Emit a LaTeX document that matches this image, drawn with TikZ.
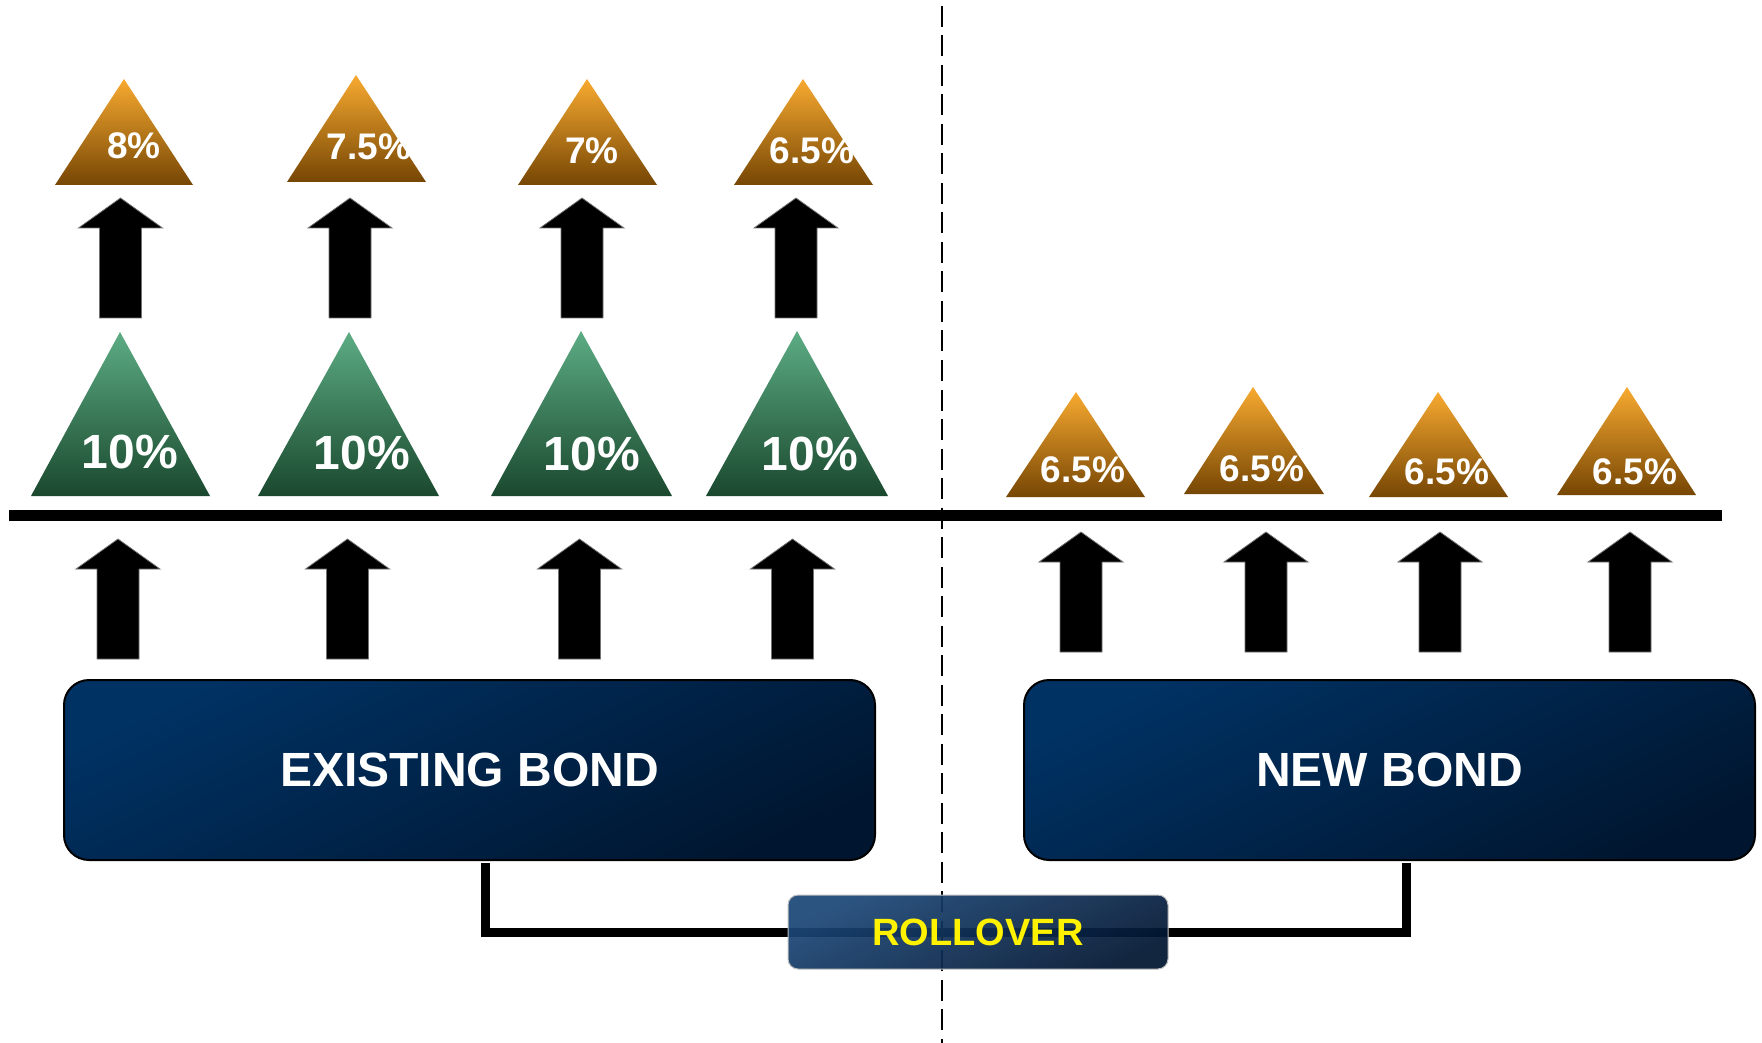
\documentclass[tikz,border=0pt]{standalone}
\usepackage{fontspec}
\setmainfont{Liberation Sans}
\definecolor{otop}{RGB}{248,170,48}
\definecolor{obot}{RGB}{118,70,4}
\definecolor{gtop}{RGB}{92,172,132}
\definecolor{gbot}{RGB}{26,72,46}
\definecolor{bxlight}{RGB}{0,50,100}
\definecolor{bxdark}{RGB}{0,22,48}
\definecolor{rlight}{RGB}{28,72,120}
\definecolor{rdark}{RGB}{2,22,50}
\begin{document}
\begin{tikzpicture}[x=0.5pt,y=-0.5pt,
  orangetri/.style={top color=otop, bottom color=obot},
  greentri/.style={top color=gtop, bottom color=gbot},
  blkarrow/.style={fill=black, draw=black!55, line width=0.4pt},
  lblbig/.style={text=white, inner sep=0pt, font=\bfseries\fontsize{24}{24}\selectfont},
  lblsmall/.style={text=white, inner sep=0pt, font=\bfseries\fontsize{18.5}{18.5}\selectfont},
  bondbox/.style={draw=black, line width=1pt, rounded corners=12.5pt, inner sep=0pt, outer sep=0pt,
    top color=bxlight, bottom color=bxdark, shading angle=25,
    text=white, font=\bfseries\fontsize{24}{24}\selectfont},
  rollbox/.style={draw=black!25, line width=0.5pt, rounded corners=5pt, inner sep=0pt, outer sep=0pt,
    top color=rlight, bottom color=rdark, shading angle=25, fill opacity=0.93,
    text=yellow, text opacity=1, font=\bfseries\fontsize{19}{19}\selectfont},
  conn/.style={draw=black, line width=4.5pt},
  baseline/.style={draw=black, line width=5.5pt},
  dashline/.style={draw=black, line width=1.25pt, dash pattern=on 10.5pt off 4.25pt, dash phase=11.75pt},
  uparrow/.pic={\path[blkarrow] (-21,0) -- (-21,-90) -- (-42,-90) -- (0,-120) -- (42,-90) -- (21,-90) -- (21,0) -- cycle;}
]
\fill[white] (0,0) rectangle (1762,1043);
\useasboundingbox (0,0) rectangle (1762,1043);

% top orange triangles
\shade[orangetri] (124,79) -- (193,185) -- (55,185) -- cycle;
\shade[orangetri] (356,75) -- (426,182) -- (287,182) -- cycle;
\shade[orangetri] (587,79) -- (657,185) -- (518,185) -- cycle;
\shade[orangetri] (803,79) -- (873,185) -- (734,185) -- cycle;
\node[lblsmall] (o1) at (134,146) {8\%};
\node[lblsmall] (o2) at (369,147) {7.5\%};
\node[lblsmall] (o3) at (592,151) {7\%};
\node[lblsmall] (o4) at (812,151) {6.5\%};

% top arrows
\pic at (120.5,318) {uparrow};
\pic at (350,318) {uparrow};
\pic at (582,318) {uparrow};
\pic at (796,318) {uparrow};

% green triangles
\shade[greentri] (120,332) -- (210,496) -- (31,496) -- cycle;
\shade[greentri] (349,332) -- (439,496) -- (258,496) -- cycle;
\shade[greentri] (581,331) -- (672,496) -- (491,496) -- cycle;
\shade[greentri] (797,331) -- (888,496) -- (706,496) -- cycle;
\node[lblbig] (g1) at (130,452) {10\%};
\node[lblbig] (g2) at (362,453) {10\%};
\node[lblbig] (g3) at (592,454) {10\%};
\node[lblbig] (g4) at (810,454) {10\%};

% right orange triangles
\shade[orangetri] (1076,392) -- (1145,497) -- (1006,497) -- cycle;
\shade[orangetri] (1253,387) -- (1324,494) -- (1184,494) -- cycle;
\shade[orangetri] (1438,392) -- (1508,497) -- (1369,497) -- cycle;
\shade[orangetri] (1627,387) -- (1696,495) -- (1557,495) -- cycle;
\node[lblsmall] (r1) at (1083,470) {6.5\%};
\node[lblsmall] (r2) at (1262,469) {6.5\%};
\node[lblsmall] (r3) at (1447,472) {6.5\%};
\node[lblsmall] (r4) at (1635,472) {6.5\%};

% main horizontal line
\coordinate (lineL) at (9,515);
\coordinate (lineR) at (1722,515);
\draw[baseline] (lineL) -- (lineR);

% dashed divider
\coordinate (dtop) at (942,0);
\coordinate (dbot) at (942,1043);
\draw[dashline] (dtop) -- (dbot);

% lower arrows
\pic at (118,659) {uparrow};
\pic at (347.5,659) {uparrow};
\pic at (579.5,659) {uparrow};
\pic at (792.5,659) {uparrow};
\pic at (1081,652) {uparrow};
\pic at (1266,652) {uparrow};
\pic at (1440,652) {uparrow};
\pic at (1630,652) {uparrow};

% bond boxes
\node[bondbox, minimum width=405.5pt, minimum height=90pt] (eb) at (469.5,770) {EXISTING BOND};
\node[bondbox, minimum width=365.5pt, minimum height=90pt] (nb) at (1389.5,770) {NEW BOND};

% rollover connectors
\coordinate (rollc) at (978,932);
\draw[conn] ([xshift=7.75pt,yshift=-1.5pt]eb.south) |- (rollc);
\draw[conn] ([xshift=8.25pt,yshift=-1.5pt]nb.south) |- (rollc);

\node[rollbox, minimum width=190pt, minimum height=37pt] (roll) at (rollc) {ROLLOVER};
\end{tikzpicture}
\end{document}
